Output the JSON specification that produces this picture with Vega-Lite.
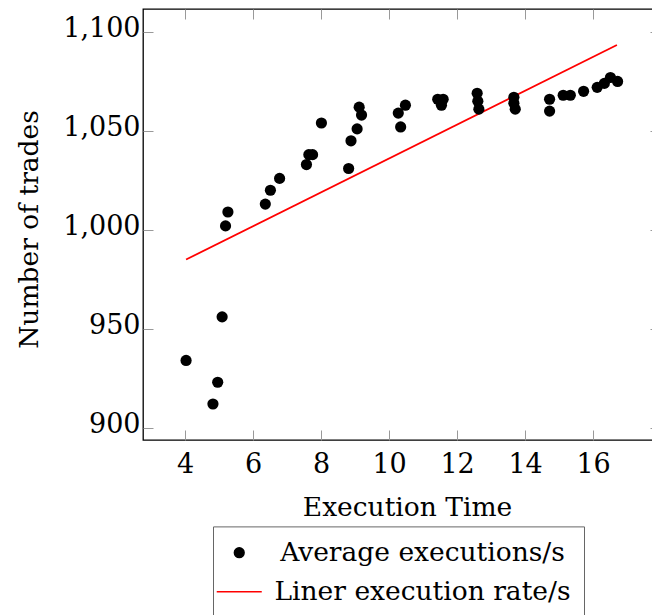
{
  "$schema": "https://vega.github.io/schema/vega-lite/v6.json",
  "width": 517,
  "height": 431,
  "autosize": {"type": "none"},
  "padding": {"left": 143, "top": 9, "right": -8, "bottom": 175},
  "background": "white",
  "config": {
    "font": "DejaVu Serif",
    "view": {"stroke": "black", "strokeWidth": 1.3},
    "axis": {
      "grid": false,
      "domain": false,
      "labelFont": "DejaVu Serif",
      "labelFontSize": 27,
      "labelColor": "black",
      "titleFont": "DejaVu Serif",
      "titleFontSize": 26.5,
      "titleFontWeight": "normal",
      "titleColor": "black",
      "tickColor": "#999999",
      "tickWidth": 1,
      "tickSize": -10
    },
    "legend": {
      "labelFont": "DejaVu Serif",
      "labelLimit": 500
    }
  },
  "datasets": {
    "pts": [
      {"x": 4.03, "y": 934, "series": "Average executions/s"},
      {"x": 4.82, "y": 912, "series": "Average executions/s"},
      {"x": 4.96, "y": 923, "series": "Average executions/s"},
      {"x": 5.09, "y": 956, "series": "Average executions/s"},
      {"x": 5.19, "y": 1002, "series": "Average executions/s"},
      {"x": 5.26, "y": 1009, "series": "Average executions/s"},
      {"x": 6.36, "y": 1013, "series": "Average executions/s"},
      {"x": 6.51, "y": 1020, "series": "Average executions/s"},
      {"x": 6.78, "y": 1026, "series": "Average executions/s"},
      {"x": 7.57, "y": 1033, "series": "Average executions/s"},
      {"x": 7.64, "y": 1038, "series": "Average executions/s"},
      {"x": 7.75, "y": 1038, "series": "Average executions/s"},
      {"x": 8.01, "y": 1054, "series": "Average executions/s"},
      {"x": 8.81, "y": 1031, "series": "Average executions/s"},
      {"x": 8.88, "y": 1045, "series": "Average executions/s"},
      {"x": 9.06, "y": 1051, "series": "Average executions/s"},
      {"x": 9.12, "y": 1062, "series": "Average executions/s"},
      {"x": 9.19, "y": 1058, "series": "Average executions/s"},
      {"x": 10.27, "y": 1059, "series": "Average executions/s"},
      {"x": 10.34, "y": 1052, "series": "Average executions/s"},
      {"x": 10.48, "y": 1063, "series": "Average executions/s"},
      {"x": 11.43, "y": 1066, "series": "Average executions/s"},
      {"x": 11.59, "y": 1066, "series": "Average executions/s"},
      {"x": 11.54, "y": 1063, "series": "Average executions/s"},
      {"x": 12.59, "y": 1069, "series": "Average executions/s"},
      {"x": 12.61, "y": 1065, "series": "Average executions/s"},
      {"x": 12.64, "y": 1061, "series": "Average executions/s"},
      {"x": 13.67, "y": 1067, "series": "Average executions/s"},
      {"x": 13.67, "y": 1064, "series": "Average executions/s"},
      {"x": 13.71, "y": 1061, "series": "Average executions/s"},
      {"x": 14.72, "y": 1066, "series": "Average executions/s"},
      {"x": 14.72, "y": 1060, "series": "Average executions/s"},
      {"x": 15.12, "y": 1068, "series": "Average executions/s"},
      {"x": 15.33, "y": 1068, "series": "Average executions/s"},
      {"x": 15.72, "y": 1070, "series": "Average executions/s"},
      {"x": 16.12, "y": 1072, "series": "Average executions/s"},
      {"x": 16.33, "y": 1074, "series": "Average executions/s"},
      {"x": 16.51, "y": 1077, "series": "Average executions/s"},
      {"x": 16.72, "y": 1075, "series": "Average executions/s"}
    ],
    "fit": [
      {"x": 4.03, "y": 985, "series": "Liner execution rate/s"},
      {"x": 16.7, "y": 1093.4, "series": "Liner execution rate/s"}
    ]
  },
  "resolve": {"axis": {"x": "independent", "y": "independent"}},
  "layer": [
    {
      "data": {"name": "fit"},
      "mark": {"type": "line", "strokeWidth": 1.8},
      "encoding": {
        "x": {"field": "x", "type": "quantitative",
          "scale": {"domain": [2.763, 17.967], "nice": false, "zero": false},
          "axis": {"orient": "top", "values": [4, 6, 8, 10, 12, 14, 16], "labels": false, "title": null}},
        "y": {"field": "y", "type": "quantitative",
          "scale": {"domain": [893.8, 1111.6], "nice": false, "zero": false},
          "axis": {"orient": "right", "values": [900, 950, 1000, 1050, 1100], "labels": false, "title": null}},
        "color": {"field": "series", "type": "nominal",
          "scale": {"domain": ["Average executions/s", "Liner execution rate/s"], "range": ["black", "red"]}}
      }
    },
    {
      "data": {"name": "pts"},
      "mark": {"type": "point", "filled": true, "opacity": 1, "size": 125},
      "encoding": {
        "x": {"field": "x", "type": "quantitative",
          "scale": {"domain": [2.763, 17.967], "nice": false, "zero": false},
          "axis": {"orient": "bottom", "values": [4, 6, 8, 10, 12, 14, 16], "title": "Execution Time",
            "labelPadding": 42, "labelBaseline": "alphabetic",
            "titleX": 264, "titleY": 75, "titleBaseline": "alphabetic", "titleAlign": "center", "titleAnchor": "middle"}},
        "y": {"field": "y", "type": "quantitative",
          "scale": {"domain": [893.8, 1111.6], "nice": false, "zero": false},
          "axis": {"orient": "left", "values": [900, 950, 1000, 1050, 1100], "format": ",.0f", "title": "Number of trades",
            "labelPadding": 13, "labelOffset": -3,
            "titleX": -106, "titleY": 220, "titleBaseline": "alphabetic", "titleAngle": -90, "titleAlign": "center", "titleAnchor": "middle"}},
        "color": {"field": "series", "type": "nominal",
          "scale": {"domain": ["Average executions/s", "Liner execution rate/s"], "range": ["black", "red"]},
          "legend": {
            "orient": "none", "legendX": 70, "legendY": 517.4, "direction": "vertical",
            "title": null, "strokeColor": "#666666", "padding": 13,
            "symbolOffset": 0, "labelAlign": "center", "labelOffset": 170,
            "labelFontSize": 26.5, "labelColor": "black", "labelLimit": 500,
            "rowPadding": 12, "symbolSize": 95,
            "encode": {"symbols": {"stroke": {"signal": "scale('color', datum.value)"}, "strokeWidth": {"value": 2}, "size": {"value": 95}}}
          }},
        "shape": {"field": "series", "type": "nominal",
          "scale": {"domain": ["Average executions/s", "Liner execution rate/s"], "range": ["circle", "M-4.62,0L4.62,0"]}}
      }
    }
  ]
}
